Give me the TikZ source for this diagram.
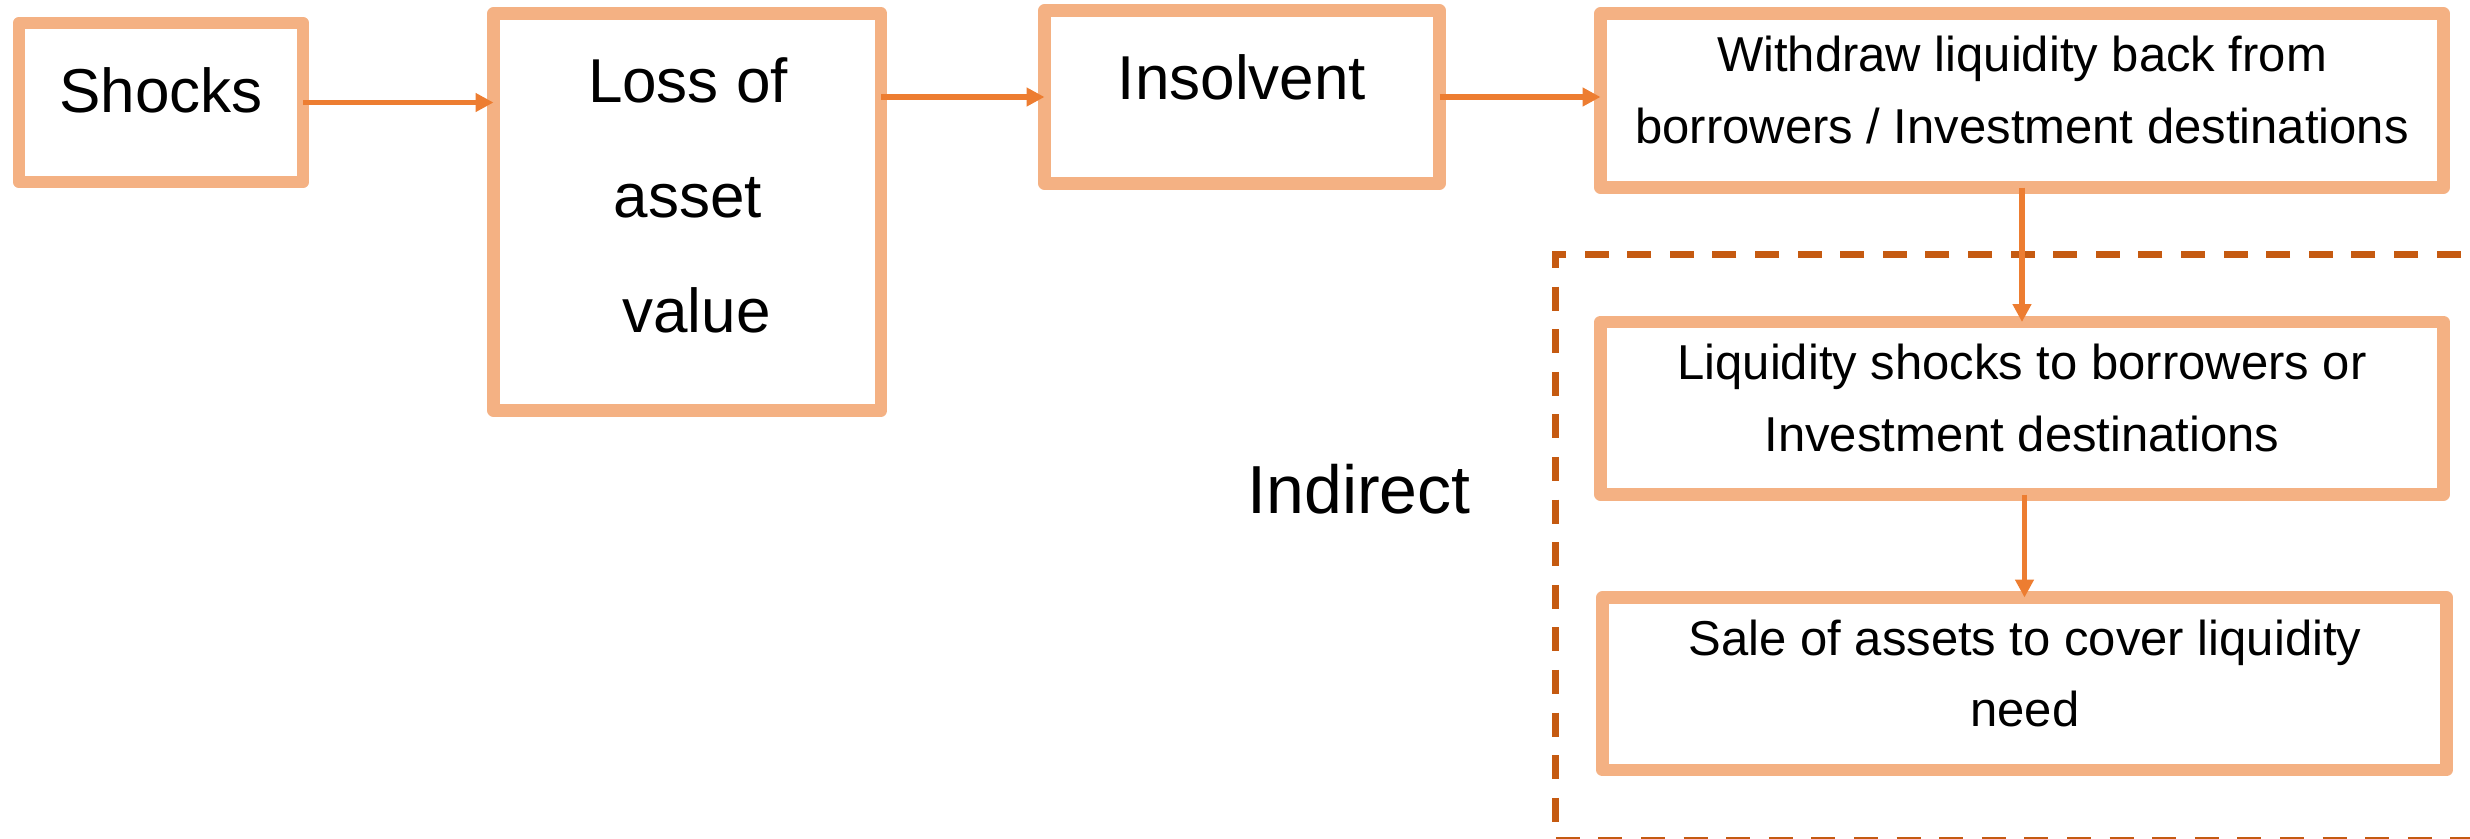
\documentclass[tikz,border=0pt]{standalone}
\usepackage{fontspec}
\setmainfont{Liberation Sans}
\usetikzlibrary{arrows.meta}

\definecolor{boxline}{HTML}{F4B183}
\definecolor{arrowline}{HTML}{ED7D31}
\definecolor{groupline}{HTML}{C55A11}

\tikzset{
  stagebox/.style={draw=boxline, line width=1.25mm, line join=round,
    rectangle, inner sep=0pt, outer sep=0pt},
  flow/.style={draw=arrowline, line width=0.55mm,
    -{Triangle[length=1.8mm, width=1.8mm]}},
  label/.style={inner sep=0pt, outer sep=0pt, align=center},
  bigtext/.style={label, font=\fontsize{6.2mm}{11.5mm}\selectfont},
  smalltext/.style={label, font=\fontsize{4.9mm}{7.16mm}\selectfont},
  grouptext/.style={label, font=\fontsize{6.8mm}{8mm}\selectfont},
  groupframe/.style={draw=groupline, line width=0.65mm,
    dash pattern=on 2.4mm off 1.86mm, dash phase=2.32mm}
}

\begin{document}
\begin{tikzpicture}[x=0.1mm, y=-0.1mm]
  \useasboundingbox (0,0) rectangle (2470,839);

  % stage boxes
  \node[stagebox, minimum width=28.4mm, minimum height=15.9mm] (shocks) at (161,102.5) {};
  \node[stagebox, minimum width=38.75mm, minimum height=39.7mm] (loss) at (687.25,212) {};
  \node[stagebox, minimum width=39.5mm, minimum height=17.3mm] (insolvent) at (1242,97) {};
  \node[stagebox, minimum width=84.3mm, minimum height=17.4mm] (withdraw) at (2022,100.5) {};
  \node[stagebox, minimum width=84.3mm, minimum height=17.25mm] (liquidity) at (2022,408.25) {};
  \node[stagebox, minimum width=84.4mm, minimum height=17.25mm] (sale) at (2024.5,683.75) {};

  % box texts
  \node[bigtext, anchor=base] (shocks-text) at (161,112) {Shocks};
  \node[bigtext, anchor=north] (loss-text) at (688,22.2)
    {\strut Loss of\\\strut asset\\\strut\ value};
  \node[bigtext, anchor=base] (insolvent-text) at (1242,99) {Insolvent};
  \node[smalltext, anchor=north] (withdraw-text) at (2022,21.6)
    {\strut Withdraw liquidity back from\\\strut borrowers / Investment destinations};
  \node[smalltext, anchor=north] (liquidity-text) at (2022,329.4)
    {\strut Liquidity shocks to borrowers or\\\strut Investment destinations};
  \node[smalltext, anchor=north] (sale-text) at (2025,604.9)
    {\strut Sale of assets to cover liquidity\\\strut need};

  % indirect channel group
  \coordinate (frame-top) at (2480,254.5);
  \coordinate (frame-corner) at (1555.5,254.5);
  \coordinate (frame-bottom) at (2480,840);
  \draw[groupframe] (frame-top) -- (frame-corner) |- (frame-bottom);
  \node[grouptext, anchor=base] (indirect) at (1359,513.5) {Indirect};

  % connectors
  \draw[flow] (shocks.east) -- (shocks.east -| loss.west);
  \draw[flow] (loss.east |- insolvent.west) -- (insolvent.west);
  \draw[flow] (insolvent.east) -- (insolvent.east -| withdraw.west);
  \draw[flow] (withdraw.south) -- (liquidity.north);
  \draw[flow] (sale.north |- liquidity.south) -- (sale.north);
\end{tikzpicture}
\end{document}
